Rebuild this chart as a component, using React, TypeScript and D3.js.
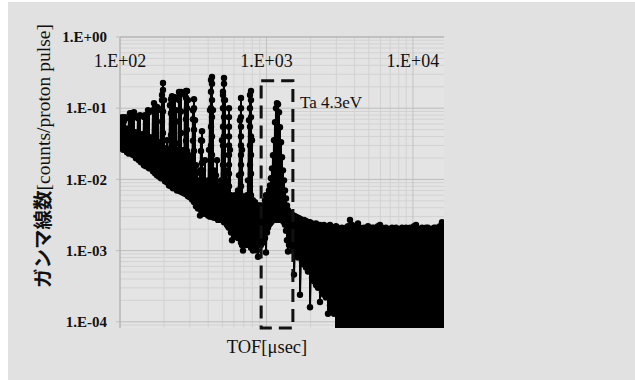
import React from 'react';
import * as d3 from 'd3';

// Axis ticks
const xTickValues = [100, 1000, 10000];
const xTickLabels = ['1.E+02', '1.E+03', '1.E+04'];
const yTickValues = [1, 0.1, 0.01, 0.001, 0.0001];
const yTickLabels = ['1.E+00', '1.E-01', '1.E-02', '1.E-03', '1.E-04'];

// Spectrum read column by column: [TOF (usec), upper count, lower count] (counts/proton pulse)
const resonanceColumns: [number, number, number][] = [
  [100, 0.056, 0.034], [101.6, 0.068, 0.029], [103.2, 0.075, 0.037], [104.8, 0.06, 0.026], [106.5, 0.066, 0.032],
  [108.2, 0.075, 0.027], [109.9, 0.052, 0.034], [111.6, 0.048, 0.024], [113.4, 0.051, 0.03], [115.2, 0.072, 0.023],
  [117.0, 0.085, 0.032], [118.9, 0.068, 0.026], [120.8, 0.085, 0.029], [122.7, 0.08, 0.022], [124.6, 0.088, 0.027],
  [126.6, 0.046, 0.025], [128.6, 0.042, 0.0198], [130.6, 0.045, 0.0265], [132.7, 0.072, 0.021], [134.8, 0.077, 0.0186],
  [137.0, 0.08, 0.0241], [139.1, 0.04, 0.0174], [141.3, 0.043, 0.0219], [143.6, 0.038, 0.018], [145.8, 0.075, 0.0158],
  [148.1, 0.08, 0.0205], [150.5, 0.077, 0.0153], [152.9, 0.042, 0.0186], [155.3, 0.094, 0.0153], [157.8, 0.088, 0.0143],
  [160.3, 0.039, 0.018], [162.8, 0.0355, 0.0143], [165.4, 0.038, 0.0169], [168.0, 0.094, 0.013], [170.7, 0.118, 0.0158],
  [173.4, 0.107, 0.0122], [176.1, 0.0355, 0.0148], [178.9, 0.104, 0.0114], [181.7, 0.1, 0.0134], [184.6, 0.0333, 0.011],
  [187.6, 0.03, 0.0126], [190.5, 0.094, 0.0104], [193.5, 0.153, 0.0126], [196.6, 0.226, 0.0104], [199.7, 0.13, 0.0114],
  [202.9, 0.0257, 0.0094], [206.1, 0.0274, 0.011], [209.4, 0.0355, 0.0091], [212.7, 0.0257, 0.0104], [216.1, 0.0241, 0.0082],
  [219.5, 0.11, 0.0097], [223.0, 0.134, 0.008], [226.5, 0.148, 0.0088], [230.1, 0.13, 0.0075], [233.7, 0.0274, 0.0085],
  [237.4, 0.143, 0.0077], [241.2, 0.0937, 0.0082], [245.0, 0.0257, 0.007], [248.9, 0.0241, 0.008], [252.8, 0.169, 0.0072],
  [256.9, 0.153, 0.0068], [260.9, 0.169, 0.0077], [265.1, 0.0257, 0.0066], [269.3, 0.0219, 0.0072], [273.5, 0.0257, 0.0064],
  [277.9, 0.163, 0.007], [282.3, 0.174, 0.0062], [286.7, 0.174, 0.0068], [291.3, 0.13, 0.0058], [295.9, 0.0219, 0.0066],
  [300.6, 0.0186, 0.0056], [305.3, 0.0198, 0.0062], [310.2, 0.0158, 0.0052], [315.1, 0.0937, 0.0058], [320.1, 0.134, 0.0048],
  [325.2, 0.0678, 0.0052], [330.3, 0.0158, 0.0042], [335.5, 0.0126, 0.0049], [340.9, 0.0097, 0.0039], [346.3, 0.0082, 0.0043],
  [351.8, 0.0134, 0.0031], [357.3, 0.0355, 0.0037], [363.0, 0.0475, 0.0034], [368.7, 0.0134, 0.0045], [374.6, 0.0082, 0.0033],
  [380.5, 0.0186, 0.0034], [386.5, 0.0082, 0.0041], [392.7, 0.007, 0.0033], [398.9, 0.0097, 0.0031], [405.2, 0.026, 0.0042],
  [411.6, 0.094, 0.003], [418.2, 0.249, 0.0031], [424.8, 0.274, 0.003], [431.5, 0.094, 0.004], [438.3, 0.0134, 0.0029],
  [445.3, 0.0075, 0.003], [452.3, 0.0114, 0.0036], [459.5, 0.0186, 0.0029], [466.8, 0.0082, 0.0027], [474.2, 0.0066, 0.0035],
  [481.7, 0.007, 0.0027], [489.3, 0.0097, 0.0027], [497.1, 0.0355, 0.0033], [504.9, 0.153, 0.0027], [513.0, 0.265, 0.0025],
  [521.1, 0.13, 0.0026], [529.4, 0.0134, 0.0031], [537.7, 0.006, 0.0023], [546.3, 0.0097, 0.0022], [554.9, 0.1, 0.0021],
  [563.7, 0.026, 0.0025], [572.7, 0.006, 0.0018], [581.7, 0.0051, 0.0014], [590.9, 0.0054, 0.0018], [600.3, 0.0048, 0.0022],
  [609.8, 0.006, 0.0017], [619.5, 0.0051, 0.0016], [629.3, 0.0046, 0.0021], [639.3, 0.007, 0.0015], [649.4, 0.0114, 0.0015],
  [659.7, 0.068, 0.0019], [670.2, 0.139, 0.0013], [680.8, 0.026, 0.0012], [691.6, 0.0051, 0.001], [702.5, 0.0043, 0.0013],
  [713.6, 0.0051, 0.0016], [725.0, 0.0043, 0.0012], [736.4, 0.006, 0.0013], [748.1, 0.0097, 0.0016], [760.0, 0.068, 0.0012],
  [772.0, 0.153, 0.0012], [784.2, 0.174, 0.0011], [796.6, 0.0355, 0.0014], [809.3, 0.0051, 0.001], [822.1, 0.0043, 0.0011],
  [835.1, 0.0048, 0.0014], [848.3, 0.004, 0.0011], [861.8, 0.0043, 0.001], [875.4, 0.0039, 0.00082], [889.3, 0.0043, 0.0015],
  [903.4, 0.0037, 0.0012], [917.7, 0.0043, 0.0012], [932.3, 0.0039, 0.0016], [947.0, 0.0037, 0.0013], [962.0, 0.0043, 0.0014],
  [977.3, 0.0051, 0.0015], [992.8, 0.006, 0.00094],
];

// Ta 4.3 eV resonance
const taColumns: [number, number, number][] = [
  [1009, 0.0051, 0.0018], [1024, 0.006, 0.0021], [1041, 0.007, 0.0023], [1057, 0.0082, 0.0024], [1074, 0.0104, 0.0025],
  [1091, 0.0143, 0.0026], [1108, 0.0219, 0.0027], [1126, 0.0355, 0.0027], [1144, 0.0636, 0.0027], [1162, 0.1, 0.0027],
  [1180, 0.118, 0.0027], [1199, 0.114, 0.0027], [1218, 0.0878, 0.0027], [1237, 0.054, 0.0027], [1257, 0.0333, 0.0027],
  [1277, 0.0205, 0.0027], [1297, 0.0134, 0.0026], [1318, 0.0097, 0.0025], [1338, 0.007, 0.0023], [1360, 0.0054, 0.0019],
  [1381, 0.0043, 0.0014], [1403, 0.0037, 0.00097], [1425, 0.0034, 0.0012],
];

// Flat background above the Ta resonance
const backgroundColumns: [number, number, number][] = [
  [1448, 0.0034, 0.0012], [1494, 0.0032, 0.001], [1542, 0.0031, 0.00046], [1591, 0.003, 0.00088], [1642, 0.0029, 0.0008],
  [1694, 0.0028, 0.00024], [1748, 0.0027, 0.0007], [1804, 0.0027, 0.00064], [1862, 0.0026, 0.00058], [1921, 0.0025, 0.00051],
  [1983, 0.0025, 0.00016], [2046, 0.0024, 0.00042], [2111, 0.0023, 0.00037], [2179, 0.0024, 0.00033], [2249, 0.0023, 0.0003],
  [2320, 0.0023, 0.00019], [2395, 0.0022, 0.00026], [2471, 0.0023, 0.00024], [2550, 0.0021, 0.00022], [2631, 0.0022, 0.00013],
  [2715, 0.0023, 0.00017], [2802, 0.0021, 0.00015], [2892, 0.0021, 0.00013], [2984, 0.0022, 0.00005], [3079, 0.0021, 0.00005],
  [3178, 0.002, 0.00005], [3279, 0.0021, 0.00005], [3384, 0.002, 0.00005], [3492, 0.0021, 0.00005], [3604, 0.0022, 0.00005],
  [3719, 0.0027, 0.00005], [3838, 0.0023, 0.00005], [3960, 0.002, 0.00005], [4087, 0.0022, 0.00005], [4217, 0.0024, 0.00005],
  [4352, 0.0021, 0.00005], [4491, 0.0019, 0.00005], [4634, 0.0021, 0.00005], [4782, 0.002, 0.00005], [4935, 0.0022, 0.00005],
  [5093, 0.0019, 0.00005], [5255, 0.0021, 0.00005], [5423, 0.0021, 0.00005], [5596, 0.002, 0.00005], [5775, 0.0022, 0.00005],
  [5960, 0.0023, 0.00005], [6150, 0.0021, 0.00005], [6347, 0.0019, 0.00005], [6549, 0.0021, 0.00005], [6758, 0.002, 0.00005],
  [6974, 0.0019, 0.00005], [7197, 0.0021, 0.00005], [7427, 0.0019, 0.00005], [7664, 0.0021, 0.00005], [7909, 0.0019, 0.00005],
  [8162, 0.002, 0.00005], [8422, 0.0021, 0.00005], [8691, 0.0019, 0.00005], [8969, 0.0021, 0.00005], [9255, 0.0019, 0.00005],
  [9551, 0.0021, 0.00005], [9856, 0.002, 0.00005], [10171, 0.0022, 0.00005], [10496, 0.0023, 0.00005], [10831, 0.002, 0.00005],
  [11177, 0.0019, 0.00005], [11534, 0.0021, 0.00005], [11902, 0.0019, 0.00005], [12282, 0.0021, 0.00005], [12674, 0.0021, 0.00005],
  [13080, 0.002, 0.00005], [13497, 0.0019, 0.00005], [13928, 0.0021, 0.00005], [14373, 0.0021, 0.00005], [14832, 0.002, 0.00005],
  [15307, 0.0022, 0.00005], [15796, 0.0025, 0.00005], [16200, 0.0022, 0.00005],
];

// Intermediate points along the tall resonance peaks: [TOF, count]
const peakBeads: [number, number][] = [
  [196.6, 0.18], [193.5, 0.13], [196.6, 0.09], [193.5, 0.065], [196.6, 0.045], [193.5, 0.032], [196.6, 0.022], [193.5, 0.015],
  [226.5, 0.12], [223.0, 0.085], [226.5, 0.06], [223.0, 0.042], [226.5, 0.03], [223.0, 0.021],
  [252.8, 0.13], [260.9, 0.09], [252.8, 0.065], [260.9, 0.045], [252.8, 0.032],
  [282.3, 0.14], [286.7, 0.1], [282.3, 0.07], [286.7, 0.05], [282.3, 0.035], [286.7, 0.025],
  [320.1, 0.1], [315.1, 0.07], [320.1, 0.05], [315.1, 0.035], [320.1, 0.025], [315.1, 0.017], [320.1, 0.012],
  [363.0, 0.035], [357.3, 0.025], [363.0, 0.017], [357.3, 0.012], [363.0, 0.008], [357.3, 0.006],
  [424.8, 0.22], [418.2, 0.17], [424.8, 0.13], [418.2, 0.1], [424.8, 0.075], [418.2, 0.055], [424.8, 0.04],
  [418.2, 0.03], [424.8, 0.022], [418.2, 0.016], [424.8, 0.012], [418.2, 0.008], [424.8, 0.006],
  [513.0, 0.22], [504.9, 0.17], [513.0, 0.13], [504.9, 0.1], [513.0, 0.075], [504.9, 0.055], [513.0, 0.04],
  [504.9, 0.03], [513.0, 0.022], [504.9, 0.016], [513.0, 0.012], [504.9, 0.008], [513.0, 0.006],
  [554.9, 0.075], [554.9, 0.055], [554.9, 0.04], [554.9, 0.03], [554.9, 0.022], [554.9, 0.016], [554.9, 0.012],
  [554.9, 0.008], [554.9, 0.006], [554.9, 0.0045],
  [670.2, 0.1], [670.2, 0.075], [670.2, 0.055], [670.2, 0.04], [670.2, 0.03], [670.2, 0.022], [670.2, 0.016],
  [670.2, 0.012], [670.2, 0.008], [670.2, 0.006], [670.2, 0.0045],
  [784.2, 0.13], [772.0, 0.1], [784.2, 0.075], [772.0, 0.055], [784.2, 0.04], [772.0, 0.03], [784.2, 0.022],
  [772.0, 0.016], [784.2, 0.012], [772.0, 0.008], [784.2, 0.006], [772.0, 0.0045],
];

// Ta 4.3 eV resonance window (TOF range and counts range)
const taBoxTof = [920, 1515];
const taBoxCounts = [0.000082, 0.243];
const taLabel = 'Ta 4.3eV';
const taLabelPos: [number, number] = [1694, 0.1];

const W = 635;
const H = 380;
const plot = { left: 120, right: 444, top: 37, bottom: 328 };

export default function App() {
  const x = d3.scaleLog().domain([100, 16300]).range([plot.left, plot.right]);
  const y = d3.scaleLog().domain([Math.pow(10, -4.087), 1]).range([plot.bottom, plot.top]);

  const columns = [...resonanceColumns, ...taColumns, ...backgroundColumns];
  const series: [number, number][] = columns.flatMap((c) => [
    [c[0], c[1]] as [number, number],
    [c[0], c[2]] as [number, number],
  ]);
  const markers = [...series, ...peakBeads];

  const line = d3
    .line<[number, number]>()
    .x((d) => x(d[0]))
    .y((d) => y(d[1]));

  const xMinor: number[] = [];
  [100, 1000, 10000].forEach((dec) => {
    for (let k = 2; k <= 9; k++) if (dec * k <= 16300) xMinor.push(dec * k);
  });
  const yMinor: number[] = [];
  [0.00001, 0.0001, 0.001, 0.01, 0.1].forEach((dec) => {
    for (let k = 2; k <= 9; k++) {
      const v = dec * k;
      if (y(v) <= plot.bottom && y(v) >= plot.top) yMinor.push(v);
    }
  });

  const serif = '"Liberation Serif", "Times New Roman", serif';

  return (
    <svg width={W} height={H} style={{ position: 'absolute', left: 0, top: 0, background: '#ffffff' }}>
      <rect x={8} y={2} width={W - 8} height={H - 2} fill="#e1e1e1" />
      <defs>
        <clipPath id="plotClip">
          <rect x={plot.left} y={plot.top} width={plot.right - plot.left} height={plot.bottom - plot.top} />
        </clipPath>
      </defs>
      <rect x={plot.left} y={plot.top} width={plot.right - plot.left} height={plot.bottom - plot.top} fill="#e4e4e4" />
      {xMinor.map((v) => (
        <line key={'xm' + v} x1={x(v)} x2={x(v)} y1={plot.top} y2={plot.bottom} stroke="#d2d2d2" strokeWidth={1} />
      ))}
      {yMinor.map((v) => (
        <line key={'ym' + v} x1={plot.left} x2={plot.right} y1={y(v)} y2={y(v)} stroke="#d2d2d2" strokeWidth={1} />
      ))}
      {xTickValues.map((v) => (
        <line key={'xg' + v} x1={x(v)} x2={x(v)} y1={plot.top} y2={plot.bottom} stroke="#c2c2c2" strokeWidth={1} />
      ))}
      {yTickValues.map((v) => (
        <line key={'yg' + v} x1={plot.left - 4} x2={plot.right} y1={y(v)} y2={y(v)} stroke="#bdbdbd" strokeWidth={1} />
      ))}
      <line x1={plot.left} x2={plot.right} y1={plot.top} y2={plot.top} stroke="#b0b0b0" strokeWidth={1} />
      <line x1={plot.left} x2={plot.left} y1={plot.top} y2={plot.bottom} stroke="#b0b0b0" strokeWidth={1} />

      <g clipPath="url(#plotClip)">
        <path d={line(series) || ''} fill="none" stroke="#000" strokeWidth={2} strokeLinejoin="round" />
        {markers.map((d, i) => (
          <circle key={i} cx={x(d[0])} cy={y(d[1])} r={3.2} fill="#000" />
        ))}
      </g>

      <rect
        x={x(taBoxTof[0])}
        y={y(taBoxCounts[1])}
        width={x(taBoxTof[1]) - x(taBoxTof[0])}
        height={y(taBoxCounts[0]) - y(taBoxCounts[1])}
        fill="none"
        stroke="#111"
        strokeWidth={3}
        strokeDasharray="13,7"
      />
      <text x={x(taLabelPos[0])} y={y(taLabelPos[1])} fontFamily={serif} fontSize={17} fill="#111">
        {taLabel}
      </text>

      {xTickValues.map((v, i) => (
        <text key={'xl' + v} x={x(v)} y={67} textAnchor="middle" fontFamily={serif} fontSize={18} fill="#111">
          {xTickLabels[i]}
        </text>
      ))}
      {yTickValues.map((v, i) => (
        <text
          key={'yl' + v}
          x={107}
          y={y(v)}
          dy="0.35em"
          textAnchor="end"
          fontFamily={serif}
          fontWeight={700}
          fontSize={15}
          fill="#111"
        >
          {yTickLabels[i]}
        </text>
      ))}

      <text x={267} y={353} textAnchor="middle" fontFamily={serif} fontSize={18.5} fill="#111">
        TOF[μsec]
      </text>
      <text transform="translate(50,156) rotate(-90)" textAnchor="middle" fontSize={19.5} fill="#111">
        <tspan fontFamily='"Noto Sans CJK JP", sans-serif' fontWeight={700}>
          ガンマ線数
        </tspan>
        <tspan fontFamily={serif}>[counts/proton pulse]</tspan>
      </text>
    </svg>
  );
}
